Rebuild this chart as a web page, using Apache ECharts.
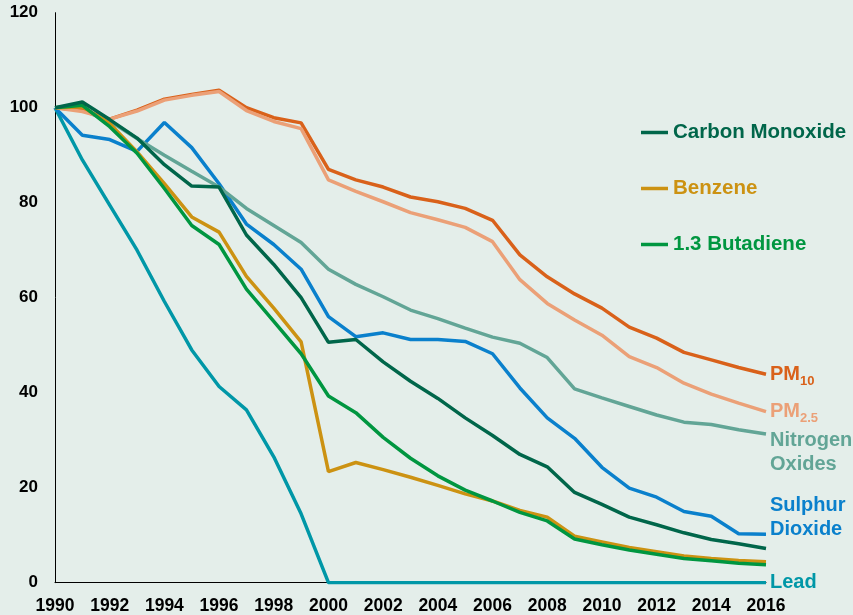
<!DOCTYPE html>
<html>
<head>
<meta charset="utf-8">
<script src="https://cdn.jsdelivr.net/npm/echarts@6/dist/echarts.min.js"></script>
<style>
  html, body { margin: 0; padding: 0; background: #e4eeea; }
  #main { width: 853px; height: 615px; }
</style>
</head>
<body>
<div id="main"></div>
<script>
var years = ['1990', '1991', '1992', '1993', '1994', '1995', '1996', '1997', '1998', '1999',
    '2000', '2001', '2002', '2003', '2004', '2005', '2006', '2007', '2008', '2009',
    '2010', '2011', '2012', '2013', '2014', '2015', '2016'];

var pm10 = [100, 99.5, 97.6, 99.5, 101.8, 102.8, 103.7, 100, 97.9, 96.8, 87, 84.8, 83.3, 81.2, 80.2, 78.8, 76.3, 69, 64.4, 60.8, 57.8, 53.8, 51.5, 48.5, 46.9, 45.3, 43.9];
var pm25 = [100, 99.2, 97.6, 99.3, 101.6, 102.6, 103.4, 99.4, 97.1, 95.6, 84.8, 82.4, 80.2, 77.9, 76.4, 74.8, 71.8, 63.8, 58.8, 55.3, 52.1, 47.6, 45.3, 42, 39.7, 37.8, 36];
var nitrogenOxides = [100, 99.5, 97.2, 93.5, 90, 86.6, 83.3, 78.8, 75.2, 71.6, 66, 62.8, 60.2, 57.4, 55.6, 53.6, 51.7, 50.4, 47.4, 40.8, 38.9, 37.1, 35.3, 33.8, 33.3, 32.2, 31.3];
var sulphurDioxide = [100, 94.2, 93.3, 90.8, 96.9, 91.6, 84, 75.5, 71.2, 66, 56, 51.8, 52.6, 51.2, 51.2, 50.8, 48.2, 41, 34.7, 30.4, 24.3, 19.9, 18, 15, 14, 10.3, 10.2];
var carbonMonoxide = [100, 101.2, 97.5, 93.6, 88, 83.5, 83.3, 73.2, 67, 60, 50.6, 51.2, 46.5, 42.4, 38.8, 34.7, 31, 27, 24.4, 19, 16.5, 13.8, 12.2, 10.5, 9.1, 8.2, 7.2];
var benzene = [100, 100.2, 96.7, 90.7, 84, 77, 73.8, 64.5, 57.8, 50.7, 23.4, 25.3, 23.8, 22.2, 20.5, 18.7, 17.2, 15.2, 13.8, 9.8, 8.6, 7.4, 6.5, 5.6, 5.1, 4.7, 4.4];
var butadiene = [100, 100.5, 96, 90.4, 83, 75.2, 71.2, 61.8, 55, 48.2, 39.3, 35.8, 30.6, 26.2, 22.5, 19.5, 17.2, 14.8, 13, 9.2, 8, 6.9, 6, 5.1, 4.6, 4.1, 3.8];
var lead = [100, 89, 79.5, 70, 59.2, 49, 41.3, 36.4, 26.5, 14.5, 0, 0, 0, 0, 0, 0, 0, 0, 0, 0, 0, 0, 0, 0, 0, 0, 0];

var fontName = "'Liberation Sans', Arial, sans-serif";

function lineSeries(name, data, color, label) {
    var s = {
        name: name,
        type: 'line',
        data: data,
        showSymbol: false,
        symbol: 'none',
        color: color,
        lineStyle: { width: 3.5, color: color },
        emphasis: { disabled: true }
    };
    if (label) {
        s.endLabel = Object.assign({
            show: true,
            color: color,
            fontFamily: fontName,
            fontWeight: 'bold',
            fontSize: 20,
            lineHeight: 24,
            distance: 4
        }, label);
    }
    return s;
}

var subRich = function (color) {
    return {
        a: { color: color, fontFamily: fontName, fontWeight: 'bold', fontSize: 20 },
        b: { color: color, fontFamily: fontName, fontWeight: 'bold', fontSize: 13, padding: [14, 0, 0, 0] }
    };
};

var myChart = echarts.init(document.getElementById('main'));
option = {
    backgroundColor: '#e4eeea',
    animation: false,
    grid: {
        left: 55,
        right: 87,
        top: 12.7,
        bottom: 32.3
    },
    legend: {
        orient: 'vertical',
        left: 641,
        top: 122,
        padding: 0,
        icon: 'rect',
        itemWidth: 27,
        itemHeight: 3.5,
        itemGap: 35,
        textStyle: { fontFamily: fontName, fontWeight: 'bold', fontSize: 20.5, lineHeight: 20 },
        data: [
            { name: 'Carbon Monoxide', textStyle: { color: '#00664a' } },
            { name: 'Benzene', textStyle: { color: '#cc9212' } },
            { name: '1.3 Butadiene', textStyle: { color: '#009640' } }
        ]
    },
    xAxis: {
        type: 'category',
        data: years,
        boundaryGap: false,
        axisLine: { lineStyle: { color: '#000', width: 1 } },
        axisTick: { show: false },
        axisLabel: {
            interval: 1,
            margin: 14,
            color: '#000',
            fontFamily: fontName,
            fontWeight: 'bold',
            fontSize: 17.5
        },
        splitLine: { show: false }
    },
    yAxis: {
        type: 'value',
        min: 0,
        max: 120,
        interval: 20,
        axisLine: { show: true, lineStyle: { color: '#000', width: 1 } },
        axisTick: { show: false },
        axisLabel: {
            margin: 17,
            color: '#000',
            fontFamily: fontName,
            fontWeight: 'bold',
            fontSize: 17
        },
        splitLine: { show: false }
    },
    series: [
        lineSeries('Lead', lead, '#0097a7', { formatter: 'Lead' }),
        lineSeries('Sulphur Dioxide', sulphurDioxide, '#0a80cc', { formatter: 'Sulphur\nDioxide', offset: [0, -17] }),
        lineSeries('Nitrogen Oxides', nitrogenOxides, '#62a596', { formatter: 'Nitrogen\nOxides', offset: [0, 18] }),
        lineSeries('PM10', pm10, '#d9611a', { formatter: '{a|PM}{b|10}', rich: subRich('#d9611a') }),
        lineSeries('PM2.5', pm25, '#eba077', { formatter: '{a|PM}{b|2.5}', rich: subRich('#eba077') }),
        lineSeries('Benzene', benzene, '#cc9212'),
        lineSeries('1.3 Butadiene', butadiene, '#009640'),
        lineSeries('Carbon Monoxide', carbonMonoxide, '#00664a')
    ]
};
myChart.setOption(option);
</script>
</body>
</html>
